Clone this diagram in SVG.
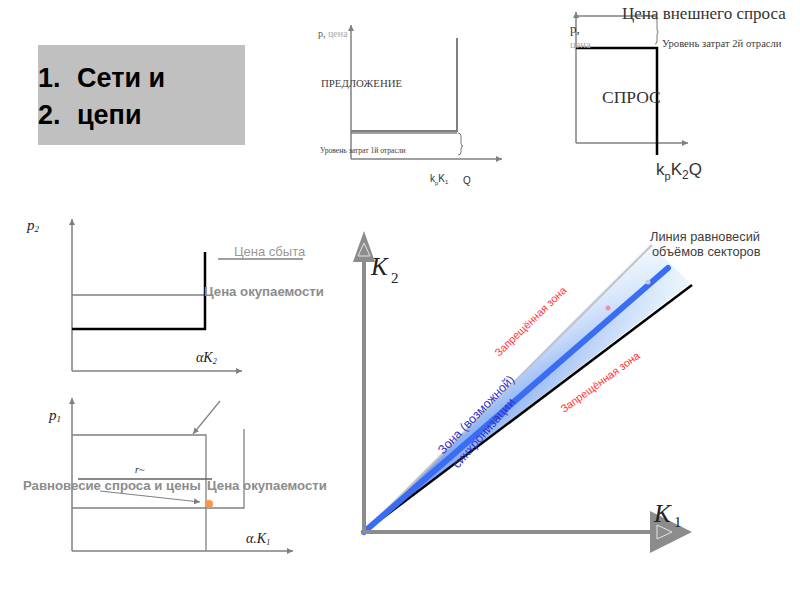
<svg xmlns="http://www.w3.org/2000/svg" width="800" height="600" viewBox="0 0 800 600">
<defs>
<style>
.ax{stroke:#808080;stroke-width:1.5;fill:none}
.gl{stroke:#808080;stroke-width:2;fill:none}
.tl{stroke:#808080;stroke-width:1.3;fill:none}
.bl{stroke:#000;stroke-width:2.5;fill:none}
.serif{font-family:"Liberation Serif","DejaVu Serif",serif}
.sans{font-family:"Liberation Sans",Arial,sans-serif}
.ital{font-family:"Liberation Serif","DejaVu Serif",serif;font-style:italic;fill:#222}
.zap{font-family:"Liberation Sans",Arial,sans-serif;font-size:10.8px;fill:#ff3333}
.zona{font-family:"Liberation Sans",Arial,sans-serif;font-size:12.5px;fill:#3333cc}
.bold{font-family:"Liberation Sans",Arial,sans-serif;font-size:13.2px;font-weight:bold;fill:#8c8c8c}
.big{stroke:#8c8c8c;stroke-width:4;fill:none}
</style>
<marker id="ah" viewBox="0 0 10 10" refX="10" refY="5" markerWidth="6" markerHeight="6" orient="auto" markerUnits="userSpaceOnUse">
<path d="M0,0 L10,5 L0,10 z" fill="#808080"/>
</marker>
<linearGradient id="wedge" gradientUnits="userSpaceOnUse" x1="364" y1="532" x2="670" y2="262">
<stop offset="0" stop-color="#5f8ff0"/>
<stop offset="0.6" stop-color="#a3c2f6"/>
<stop offset="1" stop-color="#e4f1fd"/>
</linearGradient>
<linearGradient id="wedge2" gradientUnits="userSpaceOnUse" x1="500" y1="372" x2="540" y2="420">
<stop offset="0" stop-color="#ffffff" stop-opacity="0.5"/>
<stop offset="0.5" stop-color="#ffffff" stop-opacity="0"/>
<stop offset="1" stop-color="#ffffff" stop-opacity="0.4"/>
</linearGradient>
</defs>
<rect width="800" height="600" fill="#fff"/>

<g id="title">
<rect x="38" y="45" width="207" height="100" fill="#c0c0c0"/>
<text class="sans" font-size="27" font-weight="bold" fill="#000" x="38" y="87">1.</text>
<text class="sans" font-size="27" font-weight="bold" fill="#000" x="77" y="87">Сети и</text>
<text class="sans" font-size="27" font-weight="bold" fill="#000" x="38" y="124">2.</text>
<text class="sans" font-size="27" font-weight="bold" fill="#000" x="77" y="124">цепи</text>
</g>

<g id="supply">
<path class="ax" d="M351,159 V25" marker-end="url(#ah)"/>
<path class="ax" d="M351,159 H502" marker-end="url(#ah)"/>
<path class="gl" d="M351,131 H457 V38"/>
<path class="tl" d="M351,133 H457"/>
<path d="M458,133 q3,0 3,3 v7 q0,3 2,3 q-2,0 -2,3 v3 q0,3 -3,3" fill="none" stroke="#555" stroke-width="0.8"/>
<text class="serif" font-size="10" x="318" y="37"><tspan fill="#555">p, </tspan><tspan fill="#aaa">цена</tspan></text>
<text class="serif" font-size="10.8" fill="#404040" x="321" y="87">ПРЕДЛОЖЕНИЕ</text>
<text class="serif" font-size="7.6" fill="#404040" x="320" y="153">Уровень затрат 1й отрасли</text>
<text class="sans" font-size="10" fill="#333" x="430" y="182">k<tspan font-size="6" dy="3">p</tspan><tspan dy="-3">K</tspan><tspan font-size="6" dy="2">1</tspan></text>
<text class="sans" font-size="10" fill="#333" x="463" y="184">Q</text>
</g>

<g id="demand">
<path class="ax" d="M576,143 V12" marker-end="url(#ah)"/>
<path class="ax" d="M576,143 H688" marker-end="url(#ah)"/>
<path class="tl" d="M576,16 H656"/>
<path class="bl" d="M576,48 H657 V155"/>
<path d="M655,18 q2,0 2,3 v8 q0,3 1.5,3 q-1.5,0 -1.5,3 v6 q0,3 -2,3" fill="none" stroke="#555" stroke-width="0.8"/>
<text class="serif" font-size="17" fill="#333" x="622" y="19">Цена внешнего спроса</text>
<text class="serif" font-size="13" fill="#333" x="570" y="33">p,</text>
<text class="serif" font-size="10.5" fill="#aaa" x="570" y="48">цена</text>
<text class="serif" font-size="10.6" fill="#404040" x="662" y="47">Уровень затрат 2й отрасли</text>
<text class="serif" font-size="17.5" fill="#333" x="602" y="103">СПРОС</text>
<text class="sans" font-size="17" fill="#333" x="656" y="175">k<tspan font-size="11" dy="5">p</tspan><tspan dy="-5">K</tspan><tspan font-size="12" dy="4">2</tspan><tspan dy="-4">Q</tspan></text>
</g>

<g id="sector2">
<path class="ax" d="M72,371 V219" marker-end="url(#ah)"/>
<path class="ax" d="M72,371 H242" marker-end="url(#ah)"/>
<path class="tl" d="M72,295 H205"/>
<path class="bl" d="M72,329 H205 V252"/>
<path class="tl" d="M218,259 H303"/>
<text class="sans" font-size="13" fill="#999" x="234" y="256">Цена сбыта</text>
<text class="bold" x="204" y="296">Цена окупаемости</text>
<text class="ital" font-size="15" x="27" y="230">p<tspan font-size="9" dy="2">2</tspan></text>
<text class="ital" font-size="14" x="196" y="362">αK<tspan font-size="8" dy="2">2</tspan></text>
</g>

<g id="sector1">
<path class="ax" d="M72,551 V398" marker-end="url(#ah)"/>
<path class="ax" d="M72,551 H293" marker-end="url(#ah)"/>
<path class="tl" d="M72,435 H206 V551"/>
<path class="tl" d="M72,508 H244 V429"/>
<path d="M78,479 H212" stroke="#606060" stroke-width="1.5" fill="none"/>
<text class="ital" font-size="10" x="135" y="473">r~</text>
<text class="bold" x="23" y="490">Равновесие спроса и цены</text>
<text class="bold" x="207" y="490">Цена окупаемости</text>
<text class="ital" font-size="15" x="49" y="420">p<tspan font-size="9" dy="2">1</tspan></text>
<text class="ital" font-size="14" x="246" y="543">α.K<tspan font-size="8" dy="2">1</tspan></text>
</g>

<g id="connectors">
<path d="M220,401 L193,434" stroke="#808080" stroke-width="1.2" fill="none" marker-end="url(#ah)"/>
<path d="M100,491 L200,502" stroke="#808080" stroke-width="1.2" fill="none" marker-end="url(#ah)"/>
</g>
<circle id="equilibrium-point" cx="209" cy="504" r="4" fill="#f79646"/>

<g id="sync-chart">
<polygon points="364,532 650,244 690,283" fill="url(#wedge)"/>
<polygon points="364,532 650,244 690,283" fill="url(#wedge2)"/>
<path d="M364,532 L652,245" stroke="#c4c4c4" stroke-width="2" fill="none"/>
<path d="M364,532 L692,285" stroke="#000" stroke-width="2.5" fill="none"/>
<path d="M364,532 L668,268" stroke="#3a6cf4" stroke-width="6" stroke-linecap="round" fill="none"/>
<circle cx="608" cy="308" r="2.5" fill="#ee8fb0"/>
<circle cx="648" cy="282" r="2.5" fill="#c9c9dc"/>
<path class="big" d="M364,533 V258"/>
<polygon points="364,231 353,262 375,262" fill="#8c8c8c"/>
<polygon points="364,243 358,256 370,256" fill="none" stroke="#e4e4e4" stroke-width="1"/>
<path class="big" d="M362,532 H652"/>
<polygon points="692,532 650,511 650,553" fill="#8c8c8c"/>
<polygon points="672,532 657,525 657,539" fill="none" stroke="#e4e4e4" stroke-width="1"/>
<text class="ital" font-size="25" x="371" y="275">K</text>
<text class="serif" font-size="15" fill="#222" x="391" y="283">2</text>
<text class="ital" font-size="25" x="654" y="522">K</text>
<text class="serif" font-size="15" fill="#222" x="674" y="527">1</text>
<text class="sans" font-size="12.8" fill="#404040" x="650" y="241">Линия равновесий</text>
<text class="sans" font-size="12.8" fill="#404040" x="652" y="256">объёмов секторов</text>
<text class="zap" x="499" y="357" transform="rotate(-44 499 357)">Запрещённая зона</text>
<text class="zap" x="564" y="413" transform="rotate(-36 564 413)">Запрещённая зона</text>
<text class="zona" x="443" y="455" transform="rotate(-46 443 455)">Зона (возможной)</text>
<text class="zona" x="458" y="469" transform="rotate(-49 458 469)">синхронизации</text>
</g>
</svg>
